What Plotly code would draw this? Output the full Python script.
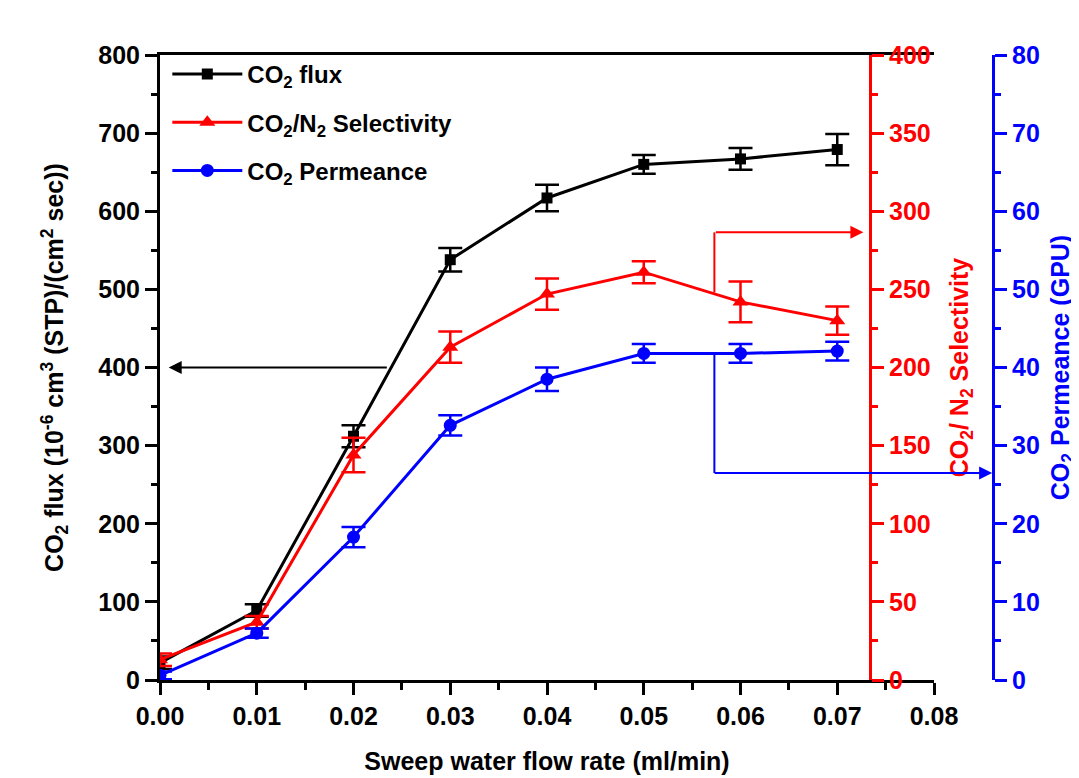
import plotly.graph_objects as go

# ---------------- data ----------------
flow = [0.0, 0.01, 0.02, 0.03, 0.04, 0.05, 0.06, 0.07]
flux = [22, 89, 312, 538, 617, 660, 667, 679]
flux_err = [8, 8, 14, 15, 17, 12, 14, 20]
selectivity = [13, 37, 144, 213, 247, 261, 242, 230]
selectivity_err = [4, 4, 11, 10, 10, 7, 13, 9]
permeance = [0.6, 6.0, 18.3, 32.6, 38.5, 41.8, 41.8, 42.1]
permeance_err = [0.5, 0.6, 1.3, 1.3, 1.5, 1.2, 1.2, 1.2]

x_ticks = [0.0, 0.01, 0.02, 0.03, 0.04, 0.05, 0.06, 0.07, 0.08]
x_ticklabels = ["0.00", "0.01", "0.02", "0.03", "0.04", "0.05", "0.06", "0.07", "0.08"]

FONT = "Liberation Sans, Arial, Helvetica, sans-serif"
RED = "#ff0000"
BLUE = "#0000ff"
FS = 25

fig = go.Figure()

fig.add_trace(go.Scatter(
    x=flow, y=flux, yaxis="y", mode="lines+markers",
    name="CO<sub>2</sub> flux", legendgroup="a",
    line=dict(color="black", width=3),
    marker=dict(symbol="square", size=11, color="black"),
    error_y=dict(type="data", array=flux_err, color="black", thickness=2.5, width=12),
))
fig.add_trace(go.Scatter(
    x=flow, y=selectivity, yaxis="y2", mode="lines+markers",
    name="CO<sub>2</sub>/N<sub>2</sub> Selectivity", legendgroup="b",
    line=dict(color=RED, width=3),
    marker=dict(symbol="triangle-up", size=14, color=RED),
    error_y=dict(type="data", array=selectivity_err, color=RED, thickness=2.5, width=12),
))
fig.add_trace(go.Scatter(
    x=flow, y=permeance, yaxis="y3", mode="lines+markers",
    name="CO<sub>2</sub> Permeance", legendgroup="c",
    line=dict(color=BLUE, width=3),
    marker=dict(symbol="circle", size=13, color=BLUE),
    error_y=dict(type="data", array=permeance_err, color=BLUE, thickness=2.5, width=12),
))

X_END = 0.8459
POS_RED = 0.7760
POS_BLUE = 0.9104

tickfont = dict(family=FONT, size=FS, color="black", weight="bold")

fig.update_layout(
    width=1071, height=770,
    margin=dict(l=152, r=4, t=47, b=98, autoexpand=False),
    paper_bgcolor="white", plot_bgcolor="white",
    font=dict(family=FONT, weight="bold"),
    showlegend=True,
    legend=dict(
        x=0.008, y=1.005, xanchor="left", yanchor="top",
        bgcolor="rgba(0,0,0,0)", borderwidth=0,
        font=dict(family=FONT, size=24, color="black", weight="bold"),
        itemwidth=70, tracegroupgap=14,
    ),
    xaxis=dict(
        domain=[0, X_END], range=[0, 0.08],
        tickvals=x_ticks, ticktext=x_ticklabels,
        showline=True, linecolor="black", linewidth=3, mirror=True,
        ticks="outside", ticklen=12, tickwidth=3, tickcolor="black",
        minor=dict(ticks="outside", ticklen=7, tickwidth=3, dtick=0.005, tickcolor="black"),
        showgrid=False, zeroline=False,
        tickfont=tickfont,
        title=dict(text="Sweep water flow rate (ml/min)",
                   font=dict(family=FONT, size=FS, color="black", weight="bold"),
                   standoff=24),
    ),
    yaxis=dict(
        range=[0, 800], dtick=100,
        showline=True, linecolor="black", linewidth=3,
        ticks="outside", ticklen=12, tickwidth=3, tickcolor="black",
        minor=dict(ticks="outside", ticklen=6, tickwidth=3, dtick=50, tickcolor="black"),
        showgrid=False, zeroline=False,
        tickfont=tickfont,
        title=dict(text="CO<sub>2</sub> flux (10<sup>-6</sup> cm<sup>3</sup> (STP)/(cm<sup>2</sup> sec))",
                   font=dict(family=FONT, size=FS, color="black", weight="bold"),
                   standoff=28),
    ),
    yaxis2=dict(
        overlaying="y", side="right", anchor="free", position=POS_RED,
        range=[0, 400], dtick=50,
        showline=True, linecolor=RED, linewidth=3,
        ticks="outside", ticklen=12, tickwidth=3, tickcolor=RED,
        minor=dict(ticks="outside", ticklen=6, tickwidth=3, dtick=25, tickcolor=RED),
        showgrid=False, zeroline=False,
        tickfont=dict(family=FONT, size=FS, color=RED, weight="bold"),
        title=dict(text="CO<sub>2</sub>/ N<sub>2</sub> Selectivity",
                   font=dict(family=FONT, size=FS, color=RED, weight="bold"),
                   standoff=20),
    ),
    yaxis3=dict(
        overlaying="y", side="right", anchor="free", position=POS_BLUE,
        range=[0, 80], dtick=10,
        showline=True, linecolor=BLUE, linewidth=3,
        ticks="outside", ticklen=12, tickwidth=3, tickcolor=BLUE,
        minor=dict(ticks="outside", ticklen=6, tickwidth=3, dtick=5, tickcolor=BLUE),
        showgrid=False, zeroline=False,
        tickfont=dict(family=FONT, size=FS, color=BLUE, weight="bold"),
        title=dict(text="CO<sub>2</sub> Permeance (GPU)",
                   font=dict(family=FONT, size=FS, color=BLUE, weight="bold"),
                   standoff=12),
    ),
)

# --------- guide arrows ---------
fig.add_annotation(
    x=0.0009, y=400, xref="x", yref="y",
    ax=0.0236, ay=400, axref="x", ayref="y",
    text="", showarrow=True, arrowhead=2, arrowsize=1.3, arrowwidth=2,
    arrowcolor="black", standoff=0,
)
fig.add_shape(type="line", xref="x", yref="y2",
              x0=0.0573, x1=0.0573, y0=248, y1=286.5,
              line=dict(color=RED, width=2))
fig.add_annotation(
    x=0.0727, y=286.5, xref="x", yref="y2",
    ax=0.0573, ay=286.5, axref="x", ayref="y2",
    text="", showarrow=True, arrowhead=2, arrowsize=1.3, arrowwidth=2,
    arrowcolor=RED, standoff=0,
)
fig.add_shape(type="line", xref="x", yref="y3",
              x0=0.0573, x1=0.0573, y0=41.8, y1=26.5,
              line=dict(color=BLUE, width=2))
fig.add_annotation(
    x=POS_BLUE - 0.001, y=26.5, xref="paper", yref="y3",
    ax=-279, ay=0,
    text="", showarrow=True, arrowhead=2, arrowsize=1.3, arrowwidth=2,
    arrowcolor=BLUE, standoff=0,
)

fig.write_html("out.html")
